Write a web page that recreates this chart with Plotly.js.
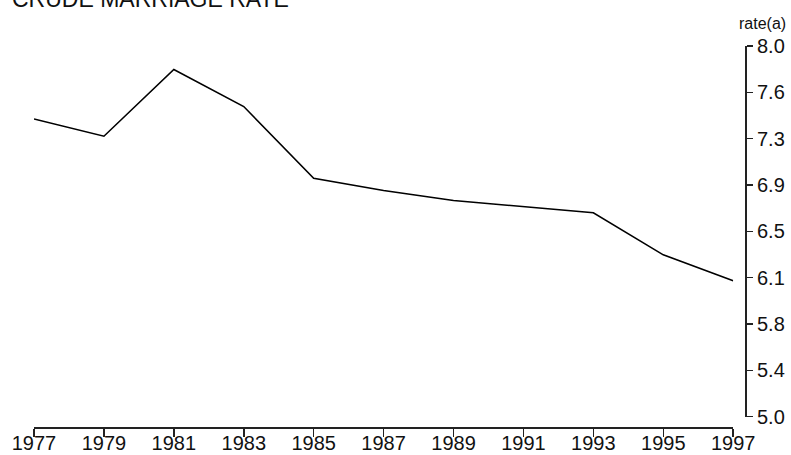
<!DOCTYPE html>
<html>
<head>
<meta charset="utf-8">
<script src="https://cdn.plot.ly/plotly-3.0.1.min.js"></script>
<style>
html,body{margin:0;padding:0;background:#fff;}
#chart{width:791px;height:455px;}
</style>
</head>
<body>
<div id="chart"></div>
<script>
const years = [1977, 1979, 1981, 1983, 1985, 1987, 1989, 1991, 1993, 1995, 1997];
const rates = [7.41, 7.27, 7.81, 7.51, 6.93, 6.83, 6.75, 6.70, 6.65, 6.31, 6.10];
const xTickVals = [1977, 1979, 1981, 1983, 1985, 1987, 1989, 1991, 1993, 1995, 1997];
const xTickText = ["1977", "1979", "1981", "1983", "1985", "1987", "1989", "1991", "1993", "1995", "1997"];
const yTickVals = [5.0, 5.375, 5.75, 6.125, 6.5, 6.875, 7.25, 7.625, 8.0];
const yTickText = ["5.0", "5.4", "5.8", "6.1", "6.5", "6.9", "7.3", "7.6", "8.0"];
const chartTitle = "CRUDE MARRIAGE RATE";
const yUnit = "rate(a)";

const font = "Liberation Sans, Arial, sans-serif";
const axisColor = "#222";

const trace = {
  x: years,
  y: rates,
  type: "scatter",
  mode: "lines",
  line: {color: "#000", width: 1.6},
  hoverinfo: "x+y"
};

const layout = {
  width: 791,
  height: 455,
  margin: {l: 34, r: 45, t: 46, b: 28, pad: 0},
  paper_bgcolor: "#fff",
  plot_bgcolor: "#fff",
  showlegend: false,
  font: {family: font, size: 20, color: "#111"},
  xaxis: {
    domain: [0, 0.982],
    range: [1977, 1997],
    anchor: "free",
    position: 0,
    tickmode: "array",
    tickvals: xTickVals,
    ticktext: xTickText,
    ticks: "outside",
    ticklen: 8,
    tickwidth: 1.5,
    tickcolor: axisColor,
    ticklabelstandoff: -11,
    showline: true,
    linecolor: axisColor,
    linewidth: 1.5,
    showgrid: false,
    zeroline: false,
    tickfont: {family: font, size: 20, color: "#111"}
  },
  yaxis: {
    domain: [0.027, 1],
    range: [5, 8],
    side: "right",
    anchor: "free",
    position: 1,
    tickmode: "array",
    tickvals: yTickVals,
    ticktext: yTickText,
    ticks: "outside",
    ticklen: 6,
    tickwidth: 1.5,
    tickcolor: axisColor,
    showline: true,
    linecolor: axisColor,
    linewidth: 2,
    showgrid: false,
    zeroline: false,
    tickfont: {family: font, size: 20, color: "#111"}
  },
  annotations: [
    {
      text: chartTitle,
      xref: "paper", yref: "paper",
      x: -0.034, y: 1.084,
      xanchor: "left", yanchor: "bottom",
      showarrow: false,
      font: {family: font, size: 23, color: "#111"}
    },
    {
      text: yUnit,
      xref: "paper", yref: "paper",
      x: 1.0595, y: 1.058,
      xanchor: "right", yanchor: "middle",
      showarrow: false,
      font: {family: font, size: 16, color: "#111"}
    }
  ]
};

Plotly.newPlot("chart", [trace], layout, {displayModeBar: false, staticPlot: true});
</script>
</body>
</html>
